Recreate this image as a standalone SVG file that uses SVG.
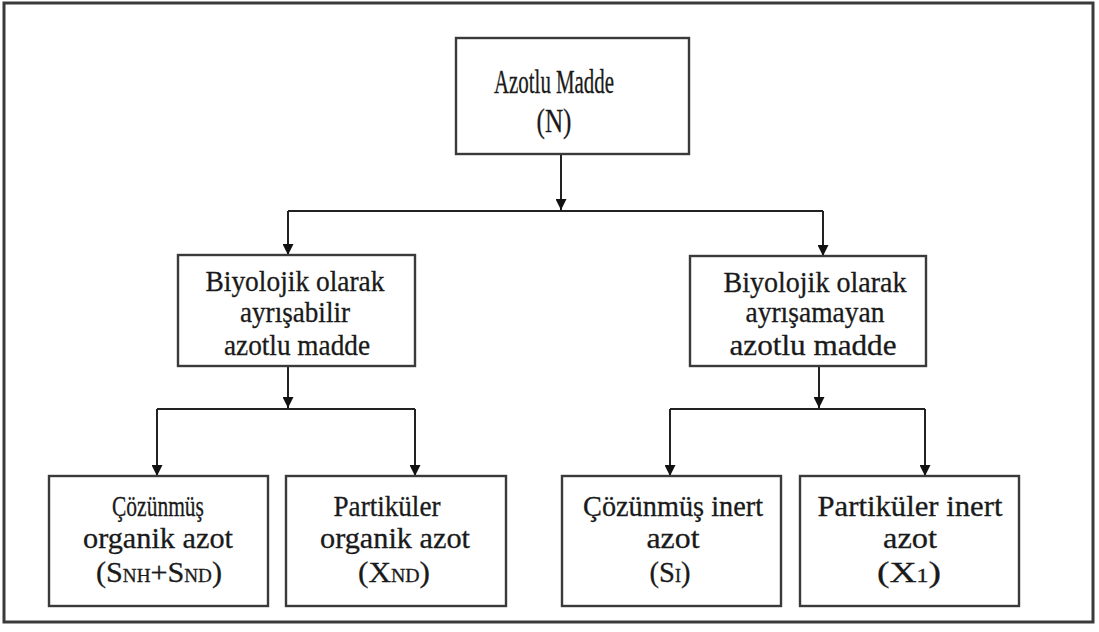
<svg xmlns="http://www.w3.org/2000/svg" width="1099" height="632" viewBox="0 0 1099 632">
<defs>
<marker id="ah" viewBox="0 0 10 10" refX="10" refY="5" markerWidth="11" markerHeight="11" markerUnits="userSpaceOnUse" orient="auto">
<path d="M0,0 L10,5 L0,10 z" fill="#111"/>
</marker>
<style>
.box{fill:#fff;stroke:#3a3a3a;stroke-width:2.4}
.t{font-family:"Liberation Serif","Times New Roman",serif;font-size:30px;fill:#1a1a1a;stroke:#1a1a1a;stroke-width:0.3;text-anchor:middle}
.big{font-size:33px}
.c{fill:none;stroke:#222;stroke-width:2}
.s{font-size:19px}
</style>
</defs>
<rect x="0" y="0" width="1099" height="632" fill="#fff"/>
<rect x="4" y="3" width="1089" height="619" fill="none" stroke="#3a3a3a" stroke-width="3"/>
<g id="connectors">
<path class="c" d="M561,154 L561,210" marker-end="url(#ah)"/>
<path class="c" d="M288,211 L823,211"/>
<path class="c" d="M288,211 L288,255" marker-end="url(#ah)"/>
<path class="c" d="M823,211 L823,256" marker-end="url(#ah)"/>
<path class="c" d="M288,366 L288,408" marker-end="url(#ah)"/>
<path class="c" d="M157,409 L415,409"/>
<path class="c" d="M157,409 L157,476" marker-end="url(#ah)"/>
<path class="c" d="M415,409 L415,476" marker-end="url(#ah)"/>
<path class="c" d="M819,366 L819,408" marker-end="url(#ah)"/>
<path class="c" d="M670,409 L925,409"/>
<path class="c" d="M670,409 L670,476" marker-end="url(#ah)"/>
<path class="c" d="M925,409 L925,476" marker-end="url(#ah)"/>
</g>
<g id="n-top">
<rect class="box" x="456" y="38" width="233" height="116"/>
<text class="t big" x="554" y="93" textLength="120" lengthAdjust="spacingAndGlyphs">Azotlu Madde</text>
<text class="t big" x="554" y="132" textLength="35" lengthAdjust="spacingAndGlyphs">(N)</text>
</g>
<g id="n-bio">
<rect class="box" x="178" y="255" width="237" height="111"/>
<text class="t" x="295" y="291" textLength="179" lengthAdjust="spacingAndGlyphs">Biyolojik olarak</text>
<text class="t" x="295" y="322" textLength="110" lengthAdjust="spacingAndGlyphs">ayrışabilir</text>
<text class="t" x="297" y="355" textLength="146" lengthAdjust="spacingAndGlyphs">azotlu madde</text>
</g>
<g id="n-inbio">
<rect class="box" x="690" y="256" width="236" height="110"/>
<text class="t" x="815" y="292" textLength="183" lengthAdjust="spacingAndGlyphs">Biyolojik olarak</text>
<text class="t" x="815" y="322" textLength="139" lengthAdjust="spacingAndGlyphs">ayrışamayan</text>
<text class="t" x="813" y="355" textLength="167" lengthAdjust="spacingAndGlyphs">azotlu madde</text>
</g>
<g id="n-s">
<rect class="box" x="49" y="476" width="219" height="130"/>
<text class="t" x="158" y="516" textLength="92" lengthAdjust="spacingAndGlyphs">Çözünmüş</text>
<text class="t" x="158" y="548" textLength="150" lengthAdjust="spacingAndGlyphs">organik azot</text>
<text class="t" x="159" y="582" textLength="126" lengthAdjust="spacingAndGlyphs">(S<tspan class="s">NH</tspan>+S<tspan class="s">ND</tspan>)</text>
</g>
<g id="n-x">
<rect class="box" x="286" y="476" width="220" height="130"/>
<text class="t" x="387" y="516" textLength="107" lengthAdjust="spacingAndGlyphs">Partiküler</text>
<text class="t" x="395" y="548" textLength="150" lengthAdjust="spacingAndGlyphs">organik azot</text>
<text class="t" x="394" y="582" textLength="72" lengthAdjust="spacingAndGlyphs">(X<tspan class="s">ND</tspan>)</text>
</g>
<g id="n-si">
<rect class="box" x="562" y="476" width="219" height="130"/>
<text class="t" x="673" y="516" textLength="180" lengthAdjust="spacingAndGlyphs">Çözünmüş inert</text>
<text class="t" x="673" y="548" textLength="53" lengthAdjust="spacingAndGlyphs">azot</text>
<text class="t" x="670" y="582" textLength="41" lengthAdjust="spacingAndGlyphs">(S<tspan class="s">I</tspan>)</text>
</g>
<g id="n-xi">
<rect class="box" x="800" y="476" width="219" height="130"/>
<text class="t" x="910" y="516" textLength="185" lengthAdjust="spacingAndGlyphs">Partiküler inert</text>
<text class="t" x="910" y="548" textLength="54" lengthAdjust="spacingAndGlyphs">azot</text>
<text class="t" x="909" y="582" textLength="64" lengthAdjust="spacingAndGlyphs">(X<tspan class="s">1</tspan>)</text>
</g>
</svg>
